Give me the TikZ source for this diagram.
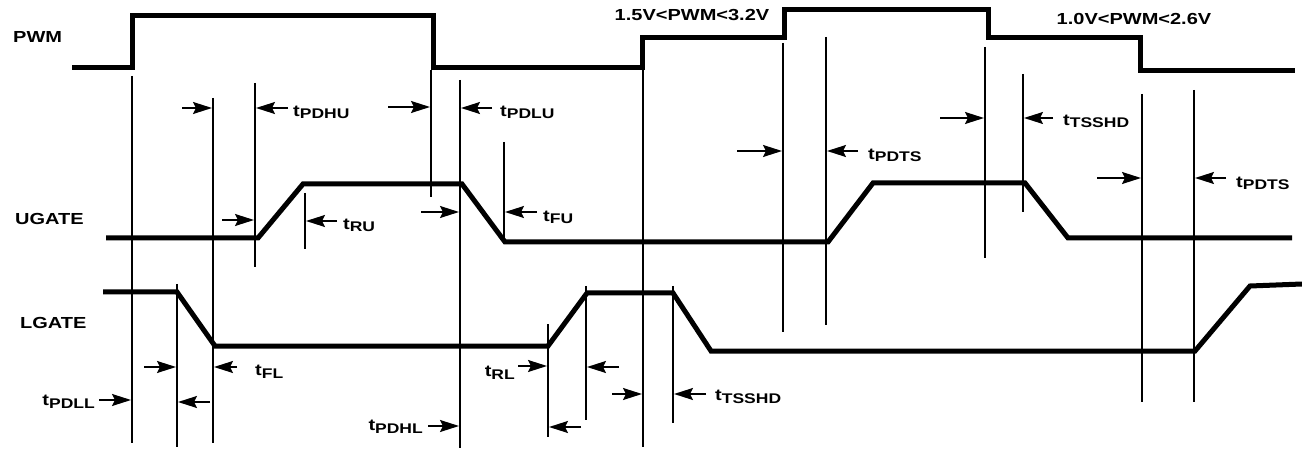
\documentclass[tikz,border=0pt]{standalone}
\usepackage{fontspec}
\setmainfont[FakeStretch=1.25,BoldFeatures={FakeStretch=1.25}]{Liberation Sans}
\usetikzlibrary{arrows.meta}
\newcommand{\tlab}[1]{t\raisebox{-2.5pt}{\fontsize{14}{14}\selectfont\bfseries #1}}
\begin{document}
\begin{tikzpicture}[x=1pt,y=-1pt,
  wave/.style={line width=5pt},
  thinline/.style={line width=1.8pt},
  arr/.style={line width=1.8pt,-{Stealth[length=19pt,width=12pt,inset=3pt]}},
  lbl/.style={font=\fontsize{16}{16}\selectfont\bfseries, inner sep=0pt},
  tl/.style={lbl, anchor=base west},
  tr/.style={lbl, anchor=base east}]
\useasboundingbox (0,0) rectangle (1302,449);
% waveforms
\draw[wave] (72,68) -- (132,68) -- (132,16) -- (433,16) -- (433,68) -- (642,68) -- (642,38) -- (784,38) -- (784,10) -- (988,10) -- (988,38) -- (1140,38) -- (1140,71) -- (1295,71);
\draw[wave] (106,238) -- (258,238) -- (303,184) -- (462,184) -- (505,242) -- (828,242) -- (873,183) -- (1025,183) -- (1068,238) -- (1292,238);
\draw[wave] (103,292) -- (177,292) -- (215,346) -- (548,346) -- (587,293) -- (673,293) -- (711,351) -- (1195,351) -- (1250,286) -- (1302,284);
% vertical marker lines
\draw[thinline] (132,76) -- (132,443);
\draw[thinline] (213,98) -- (213,443);
\draw[thinline] (255,83) -- (255,267);
\draw[thinline] (431,70) -- (431,197);
\draw[thinline] (460,80) -- (460,448);
\draw[thinline] (504,142) -- (504,244);
\draw[thinline] (643,70) -- (643,447);
\draw[thinline] (783,43) -- (783,332);
\draw[thinline] (826,37) -- (826,325);
\draw[thinline] (985,47) -- (985,258);
\draw[thinline] (1023,74) -- (1023,212);
\draw[thinline] (1142,94) -- (1142,402);
\draw[thinline] (1194,90) -- (1194,402);
\draw[thinline] (305,193) -- (305,249);
\draw[thinline] (177,284) -- (177,447);
\draw[thinline] (548,324) -- (548,437);
\draw[thinline] (586,286) -- (586,420);
\draw[thinline] (673,286) -- (673,423);
% arrows
\draw[arr] (182,108) -- (212,108);
\draw[arr] (288,108) -- (256,108);
\draw[arr] (388,107) -- (430,107);
\draw[arr] (492,108) -- (461,108);
\draw[arr] (222,220) -- (254,220);
\draw[arr] (337,221) -- (306,221);
\draw[arr] (421,212) -- (459,212);
\draw[arr] (537,212) -- (505,212);
\draw[arr] (737,151) -- (782,151);
\draw[arr] (858,151) -- (827,151);
\draw[arr] (940,118) -- (984,118);
\draw[arr] (1053,118) -- (1024,118);
\draw[arr] (1097,178) -- (1141,178);
\draw[arr] (1226,178) -- (1195,178);
\draw[arr] (144,367) -- (176,367);
\draw[arr] (237,367) -- (214,367);
\draw[arr] (99,400) -- (131,400);
\draw[arr] (210,402) -- (178,402);
\draw[arr] (428,426) -- (459,426);
\draw[arr] (518,366) -- (547,366);
\draw[arr] (619,367) -- (587,367);
\draw[arr] (612,394) -- (642,394);
\draw[arr] (706,394) -- (674,394);
\draw[arr] (581,427) -- (549,427);
% labels
\node[lbl, anchor=west] (pwm) at (13,37) {PWM};
\node[lbl, anchor=west] (ugate) at (15,219) {UGATE};
\node[lbl, anchor=west] (lgate) at (20,323) {LGATE};
\node[lbl, anchor=base] (r1) at (692,21) {1.5V<PWM<3.2V};
\node[lbl, anchor=base] (r2) at (1134,25) {1.0V<PWM<2.6V};
\node[tl] (pdhu) at (293,116.5) {\tlab{PDHU}};
\node[tl] (pdlu) at (500,116.5) {\tlab{PDLU}};
\node[tl] (ru) at (343,229.5) {\tlab{RU}};
\node[tl] (fu) at (543,221.5) {\tlab{FU}};
\node[tl] (pdts1) at (868,159.5) {\tlab{PDTS}};
\node[tl] (tsshd1) at (1063,125.5) {\tlab{TSSHD}};
\node[tl] (pdts2) at (1236,187.5) {\tlab{PDTS}};
\node[tl] (fl) at (255,375.5) {\tlab{FL}};
\node[tr] (pdll) at (95,405.5) {\tlab{PDLL}};
\node[tr] (pdhl) at (423,430.5) {\tlab{PDHL}};
\node[tr] (rl) at (515,376.5) {\tlab{RL}};
\node[tl] (tsshd2) at (715,400.5) {\tlab{TSSHD}};
\end{tikzpicture}
\end{document}
